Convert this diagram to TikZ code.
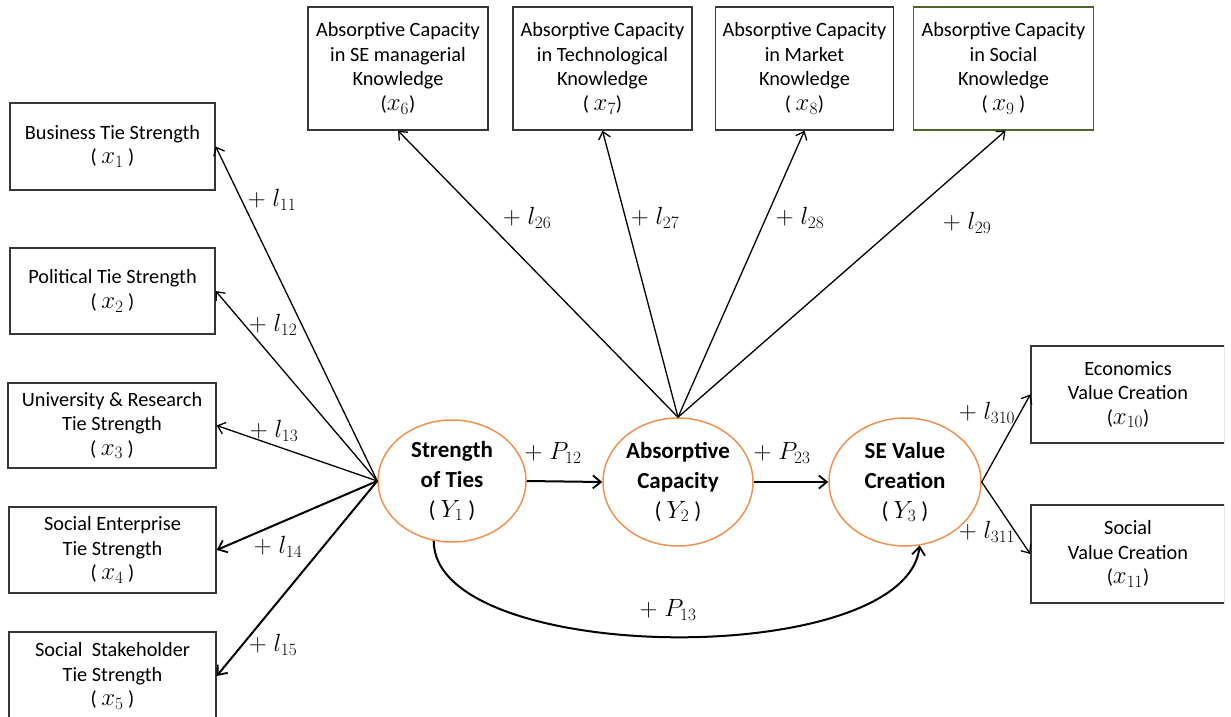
\documentclass[tikz,border=0pt]{standalone}
\usepackage{fontspec}
\setmainfont{Carlito}
\usetikzlibrary{arrows.meta,shapes.geometric}
\definecolor{boxline}{RGB}{55,55,55}
\definecolor{orng}{RGB}{240,145,80}
\definecolor{olivegreen}{RGB}{79,98,40}
\newcommand\mth[1]{{\fontsize{23}{24}\selectfont$#1$}}
\newcommand\mthY[1]{{\mdseries\fontsize{23}{26}\selectfont( $#1$ )}}
\begin{document}
\begin{tikzpicture}[x=1pt,y=-1pt,
  box/.style={draw=boxline,line width=1.4pt,rectangle,inner sep=0pt,align=center,
    font=\fontsize{20.3}{24.5}\selectfont},
  lat/.style={draw=orng,line width=1.5pt,ellipse,inner sep=0pt,align=center,
    font=\bfseries\fontsize{23}{30}\selectfont},
  lbl/.style={font=\fontsize{23.5}{24}\selectfont,inner sep=0pt},
  arr/.style={-{Straight Barb[length=7pt,width=12pt,line width=1.3pt]},line width=1.3pt},
  tarr/.style={-{Straight Barb[length=8pt,width=13pt,line width=1.8pt]},line width=2pt}]
\useasboundingbox (0,0) rectangle (1231,717);
\clip (0,0) rectangle (1224,717);

% left indicator boxes
\node[box,minimum width=205pt,minimum height=87pt] (x1) at (112.5,146.5) {Business Tie Strength\\( \mth{x_1} )};
\node[box,minimum width=205pt,minimum height=86pt] (x2) at (112.5,291) {Political Tie Strength\\( \mth{x_2} )};
\node[box,minimum width=208pt,minimum height=85pt] (x3) at (112,425.5) {University \& Research\\Tie Strength\\( \mth{x_3} )};
\node[box,minimum width=207pt,minimum height=86pt] (x4) at (112.5,550) {Social Enterprise\\Tie Strength\\( \mth{x_4} )};
\node[box,minimum width=207pt,minimum height=88pt] (x5) at (112.5,676) {Social\ \ Stakeholder\\Tie Strength\\( \mth{x_5} )};

% top indicator boxes
\node[box,minimum width=180pt,minimum height=123pt] (x6) at (398,68.5) {Absorptive Capacity\\in SE managerial\\Knowledge\\(\mth{x_6})};
\node[box,minimum width=179pt,minimum height=123pt] (x7) at (602.5,68.5) {Absorptive Capacity\\in Technological\\Knowledge\\( \mth{x_7})};
\node[box,minimum width=178pt,minimum height=123pt] (x8) at (804.5,68.5) {Absorptive Capacity\\in Market\\Knowledge\\( \mth{x_8})};
\node[box,draw=olivegreen,minimum width=180pt,minimum height=123pt] (x9) at (1003.5,68.5) {Absorptive Capacity\\in Social\\Knowledge\\( \mth{x_9} )};

% right indicator boxes
\node[box,minimum width=194pt,minimum height=97pt] (x10) at (1128,394.5) {Economics\\Value Creation\\(\mth{x_{10}})};
\node[box,minimum width=194pt,minimum height=98pt] (x11) at (1128,554) {Social\\Value Creation\\(\mth{x_{11}})};

% latent variables
\node[lat,minimum width=148pt,minimum height=122pt] (Y1) at (452,481) {Strength\\of Ties\\\mthY{Y_1}};
\node[lat,minimum width=150pt,minimum height=128pt] (Y2) at (678,482) {Absorptive\\Capacity\\\mthY{Y_2}};
\node[lat,minimum width=152pt,minimum height=128pt] (Y3) at (905,482) {SE Value\\Creation\\\mthY{Y_3}};

% loadings of Y1
\draw[arr] (Y1.west) -- (x1.east);
\draw[arr] (Y1.west) -- (x2.east);
\draw[arr] (Y1.west) -- (x3.east);
\draw[tarr] (Y1.west) -- (x4.east);
\draw[tarr] (Y1.west) -- (x5.east);

% loadings of Y2
\draw[arr] (Y2.north) -- (x6.south);
\draw[arr] (Y2.north) -- (x7.south);
\draw[arr] (Y2.north) -- (x8.south);
\draw[arr] (Y2.north) -- ([xshift=2pt]x9.south);

% loadings of Y3
\draw[arr] (Y3.east) -- (x10.west);
\draw[arr] (Y3.east) -- (x11.west);

% structural paths
\draw[tarr] (Y1.east) -- (Y2.west);
\draw[tarr] (Y2.east) -- (Y3.west);
\draw[tarr] (Y1.253) .. controls +(0,125) and +(-15,125) .. (Y3.283);

% labels
\node[lbl] (l11) at (272,200) {$+\;l_{11}$};
\node[lbl] (l12) at (273,325) {$+\;l_{12}$};
\node[lbl] (l13) at (274,431) {$+\;l_{13}$};
\node[lbl] (l14) at (278,547) {$+\;l_{14}$};
\node[lbl] (l15) at (273,645) {$+\;l_{15}$};
\node[lbl] (l26) at (527,218) {$+\;l_{26}$};
\node[lbl] (l27) at (655,218) {$+\;l_{27}$};
\node[lbl] (l28) at (800,218) {$+\;l_{28}$};
\node[lbl] (l29) at (967,223) {$+\;l_{29}$};
\node[lbl] (p12) at (553,453) {$+\;P_{12}$};
\node[lbl] (p23) at (782,453) {$+\;P_{23}$};
\node[lbl] (p13) at (668,610) {$+\;P_{13}$};
\node[lbl] (l310) at (987,413) {$+\;l_{310}$};
\node[lbl] (l311) at (987,532) {$+\;l_{311}$};
\end{tikzpicture}
\end{document}
